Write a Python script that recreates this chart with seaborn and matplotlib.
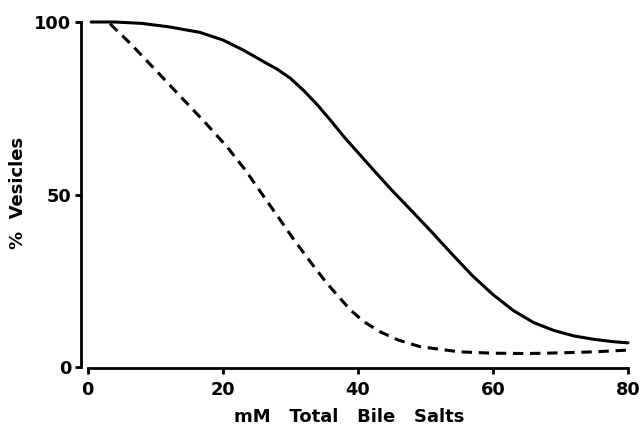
import matplotlib
matplotlib.use("Agg")
import matplotlib.pyplot as plt
import seaborn as sns

# Data
solid_x = [0.5, 4, 8, 12, 16.6, 20, 23, 26.5, 28, 30, 32, 34, 36, 38, 40, 42, 45, 48, 51, 54, 57, 60, 63, 66, 69, 72, 75, 78, 80]
solid_y = [100, 100, 99.6, 98.6, 97, 94.8, 91.9, 88, 86.4, 83.7, 80.1, 76.0, 71.4, 66.6, 62.2, 57.8, 51.3, 45.2, 39.0, 32.6, 26.4, 21.0, 16.4, 12.9, 10.6, 9.0, 8.0, 7.3, 7.0]

dashed_x = [3.3, 6.3, 9.7, 13.7, 17.6, 20.6, 23.3, 26, 28.3, 30.5, 33, 35.4, 38.9, 41, 43.3, 46, 49.2, 55, 60, 65, 70, 75, 80]
dashed_y = [99.5, 93.8, 86.8, 78.5, 70.4, 63.9, 57.2, 49.6, 43.2, 37.0, 30.4, 24.3, 16.5, 13.0, 10.2, 7.8, 5.9, 4.4, 4.0, 3.9, 4.1, 4.4, 4.9]

x_ticks = [0, 20, 40, 60, 80]
y_ticks = [0, 50, 100]
x_label = "mM   Total   Bile   Salts"
y_label = "%  Vesicles"

sns.set_style("ticks")
plt.rcParams['font.family'] = ['DejaVu Sans']

fig = plt.figure(figsize=(6.42, 4.28), dpi=100)
ax = fig.add_axes([87.7 / 642, 61 / 428, 540.3 / 642, 345 / 428])

sns.lineplot(x=solid_x, y=solid_y, color="black", lw=2.2, ax=ax, clip_on=False)
sns.lineplot(x=dashed_x, y=dashed_y, color="black", lw=2.2, ax=ax, clip_on=False)
ax.lines[0].set_solid_joinstyle("round")
ax.lines[-1].set_dashes([3.4, 2.2])

ax.set_xlim(0, 80)
ax.set_ylim(0, 100)
ax.set_xticks(x_ticks)
ax.set_yticks(y_ticks)
ax.set_xticklabels([str(v) for v in x_ticks])
ax.set_yticklabels([str(v) for v in y_ticks])

for s in ["top", "right"]:
    ax.spines[s].set_visible(False)
ax.spines["left"].set_position(("outward", 4.8))
ax.spines["bottom"].set_position(("outward", 1))
for s in ["left", "bottom"]:
    ax.spines[s].set_linewidth(2.0)
    ax.spines[s].set_color("black")

ax.tick_params(axis="both", which="major", length=4, width=2.0, color="black",
               labelsize=12.8, labelcolor="black")
ax.tick_params(axis="x", pad=5)
ax.tick_params(axis="y", pad=3)
for lab in ax.get_xticklabels() + ax.get_yticklabels():
    lab.set_fontweight("bold")

ax.set_xlabel(x_label, fontsize=13, fontweight="bold", color="black")
ax.set_ylabel(y_label, fontsize=13, fontweight="bold", color="black")
ax.xaxis.set_label_coords(0.484, -0.118)
ax.yaxis.set_label_coords(-0.112, 0.505)

fig.savefig("out.png", dpi=100)
